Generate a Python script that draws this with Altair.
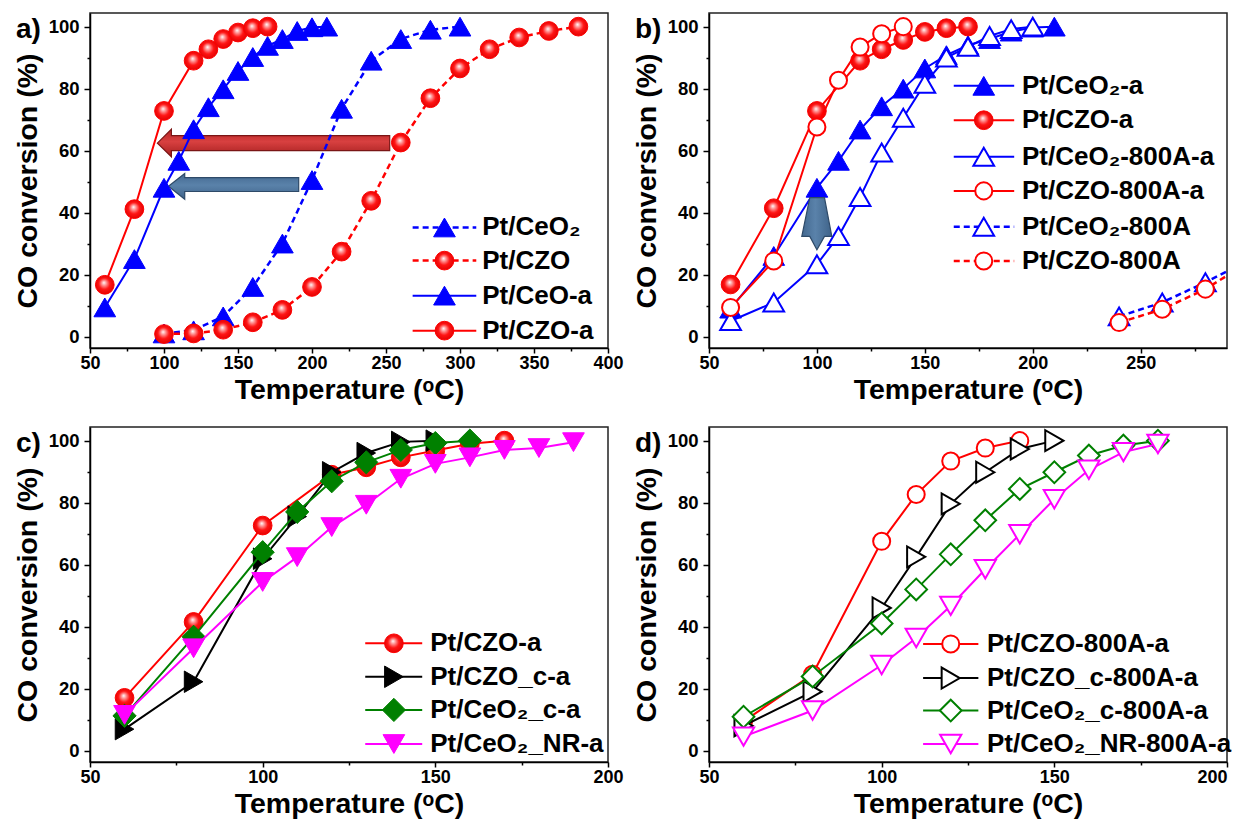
import altair as alt
import pandas as pd

FONT = "Liberation Sans"

# ---------------- panel a ----------------
a_ceo2_T = [100, 120, 140, 160, 180, 200, 220, 240, 260, 280, 300]
a_ceo2_Y = [1, 2, 6.5, 16, 30, 50.5, 73.5, 89, 96, 99, 100]
a_czo_T = [100, 120, 140, 160, 180, 200, 220, 240, 260, 280, 300, 320, 340, 360, 380]
a_czo_Y = [0.8, 1, 2.2, 4.6, 8.6, 16, 27.4, 43.8, 62.6, 76.9, 86.5, 92.7, 96.5, 98.6, 100]
a_ceoa_T = [60, 80, 100, 110, 120, 130, 140, 150, 160, 170, 180, 190, 200, 210]
a_ceoa_Y = [9.4, 25, 48, 56.7, 66.9, 74, 79.8, 85.7, 90.2, 93.8, 96, 98.6, 99.8, 100]
a_czoa_T = [60, 80, 100, 120, 130, 140, 150, 160, 170]
a_czoa_Y = [16.7, 41.1, 72.8, 89, 92.7, 96, 98.1, 99.5, 100]
a_labels = ["Pt/CeO₂", "Pt/CZO", "Pt/CeO-a", "Pt/CZO-a"]

# ---------------- panel b ----------------
b_ceoa_T = [60, 80, 100, 110, 120, 130, 140, 150, 160, 170, 180, 190, 200, 210]
b_ceoa_Y = [9, 26, 48, 56.7, 66.8, 74.3, 80, 86.5, 90.8, 94, 96, 98.4, 99.7, 100]
b_czoa_T = [60, 80, 100, 120, 130, 140, 150, 160, 170]
b_czoa_Y = [16.8, 41.4, 72.8, 89, 92.7, 95.7, 98.3, 99.5, 100]
b_ceo800a_T = [60, 80, 100, 110, 120, 130, 140, 150, 160, 170, 180, 190, 200]
b_ceo800a_Y = [5, 11, 23.3, 32.4, 45, 59.4, 70.6, 81.6, 90, 93.5, 97, 99.2, 100]
b_czo800a_T = [60, 80, 100, 110, 120, 130, 140]
b_czo800a_Y = [9.4, 24.4, 67.6, 82.7, 93.4, 97.7, 100]
b_ceo800_T = [240, 260, 280, 300]
b_ceo800_Y = [6.5, 11, 17.5, 24.5]
b_czo800_T = [240, 260, 280, 300]
b_czo800_Y = [4.5, 8.8, 15.3, 24]
b_labels = ["Pt/CeO₂-a", "Pt/CZO-a", "Pt/CeO₂-800A-a", "Pt/CZO-800A-a",
            "Pt/CeO₂-800A", "Pt/CZO-800A"]

# ---------------- panel c ----------------
c_czoa_T = [60, 80, 100, 120, 130, 140, 150, 160, 170]
c_czoa_Y = [17, 41.5, 72.6, 89, 91.4, 94.6, 96.8, 99, 100]
c_czoc_T = [60, 80, 100, 110, 120, 130, 140, 150]
c_czoc_Y = [6.9, 22.2, 61.9, 75.5, 89.8, 96, 99.6, 100]
c_ceoc_T = [60, 80, 100, 110, 120, 130, 140, 150, 160]
c_ceoc_Y = [11.2, 36.7, 64, 77, 86.9, 93, 97, 99.2, 100]
c_ceonr_T = [60, 80, 100, 110, 120, 130, 140, 150, 160, 170, 180, 190]
c_ceonr_Y = [11.5, 33, 54.4, 62.4, 72.1, 79.3, 87.7, 92.5, 94.6, 97, 97.6, 99.5]
c_labels = ["Pt/CZO-a", "Pt/CZO_c-a", "Pt/CeO₂_c-a", "Pt/CeO₂_NR-a"]

# ---------------- panel d ----------------
d_czo_T = [60, 80, 100, 110, 120, 130, 140]
d_czo_Y = [9.4, 24.6, 67.5, 82.6, 93.4, 97.6, 100]
d_czoc_T = [60, 80, 100, 110, 120, 130, 140, 150]
d_czoc_Y = [8, 19, 46, 62.5, 79.6, 89.8, 97.3, 100]
d_ceoc_T = [60, 80, 100, 110, 120, 130, 140, 150, 160, 170, 180]
d_ceoc_Y = [10.9, 23.9, 41, 52, 63.3, 74.3, 84.4, 89.8, 95.2, 98.4, 100]
d_ceonr_T = [60, 80, 100, 110, 120, 130, 140, 150, 160, 170, 180]
d_ceonr_Y = [4.5, 12.9, 27.6, 36.3, 46.7, 58.5, 69.8, 81.1, 90.6, 96.3, 98.9]
d_labels = ["Pt/CZO-800A-a", "Pt/CZO_c-800A-a", "Pt/CeO₂_c-800A-a", "Pt/CeO₂_NR-800A-a"]

# arrows (data coordinates)
ar_red_T = [95.5, 105, 105, 252.5]
ar_red_lo = [62.4, 58.0, 60.0, 60.0]
ar_red_hi = [62.4, 66.9, 64.8, 64.8]
ar_blue_T = [103, 114, 114, 191]
ar_blue_lo = [48.5, 44.3, 46.8, 46.8]
ar_blue_hi = [48.5, 52.6, 51.3, 51.3]
ar_down_V = [28, 32.3, 32.3, 44.8]
ar_down_lo = [100, 93, 96.7, 96.7]
ar_down_hi = [100, 106.9, 103.5, 103.5]

# ---------------- styles ----------------
RED, BLUE, GREEN, MAG, BLK = "#ff0000", "#0000ff", "#008000", "#ff00ff", "#000000"
BALL = alt.RadialGradient(
    gradient="radial", x1=0.45, y1=0.38, r1=0.0, x2=0.5, y2=0.5, r2=0.55,
    stops=[alt.GradientStop(offset=0.0, color="#ffffff"),
           alt.GradientStop(offset=0.22, color="#ff9a9a"),
           alt.GradientStop(offset=0.55, color="#ff1414"),
           alt.GradientStop(offset=1.0, color="#dd0000")])


def sty(color, shape, fill, size, dashed=False, sw=2.0):
    return dict(color=color, shape=shape, fill=fill, size=size, dashed=dashed, sw=sw)


S_TRI_F = sty(BLUE, "triangle-up", BLUE, 470, sw=1)
S_TRI_FD = sty(BLUE, "triangle-up", BLUE, 470, dashed=True, sw=1)
S_BALL = sty(RED, "circle", BALL, 350, sw=1)
S_BALL_D = sty(RED, "circle", BALL, 350, dashed=True, sw=1)
S_TRI_O = sty(BLUE, "triangle-up", "white", 430)
S_TRI_OD = sty(BLUE, "triangle-up", "white", 430, dashed=True)
S_CIR_O = sty(RED, "circle", "white", 290)
S_CIR_OD = sty(RED, "circle", "white", 290, dashed=True)
S_RT_F = sty(BLK, "triangle-right", BLK, 460, sw=1)
S_DIA_F = sty(GREEN, "diamond", GREEN, 540, sw=1)
S_DN_F = sty(MAG, "triangle-down", MAG, 470, sw=1)
S_RT_O = sty(BLK, "triangle-right", "white", 440)
S_DIA_O = sty(GREEN, "diamond", "white", 470)
S_DN_O = sty(MAG, "triangle-down", "white", 450)

Y_DOM = [-3.7, 104.4]


def x_axis(hi, last_right=False):
    kw = {}
    if last_right:
        kw["labelAlign"] = {"condition": {"test": f"datum.value == {hi}", "value": "right"},
                            "value": "center"}
    return alt.Axis(values=list(range(50, hi + 1, 25)), format="d",
                    labelExpr="datum.value % 50 == 0 ? datum.label : ''",
                    tickSize={"condition": {"test": "datum.value % 50 == 0", "value": 5}, "value": 3},
                    labelFlush=False, labelOverlap=False, grid=False, labelFontSize=18,
                    labelPadding=1, titlePadding=3, title="Temperature (ᵒC)", **kw)


def y_axis():
    return alt.Axis(values=list(range(0, 101, 10)), format="d",
                    labelExpr="datum.value % 20 == 0 ? datum.label : ''",
                    tickSize={"condition": {"test": "datum.value % 20 == 0", "value": 6}, "value": 3},
                    labelOverlap=False, grid=False, labelPadding=5, titlePadding=6,
                    title="CO conversion (%)")


def XE(dom, hi, field="T", last_right=False):
    return alt.X(f"{field}:Q", scale=alt.Scale(domain=dom, nice=False, zero=False),
                 axis=x_axis(hi, last_right))


def YE(field="Y"):
    return alt.Y(f"{field}:Q", scale=alt.Scale(domain=Y_DOM, nice=False, zero=False), axis=y_axis())


def line_kw(st):
    kw = dict(color=st["color"], strokeWidth=2, clip=True)
    if st["dashed"]:
        kw.update(strokeDash=[6, 4], strokeWidth=2.5)
    return kw


def point_kw(st):
    return dict(shape=st["shape"], filled=True, fill=st["fill"], stroke=st["color"],
                strokeWidth=st["sw"], size=st["size"], opacity=1, clip=True)


def series(T, Y, st, X, Yc):
    base = alt.Chart(pd.DataFrame({"T": T, "Y": Y})).encode(x=X, y=Yc)
    return [base.mark_line(**line_kw(st)), base.mark_point(**point_kw(st))]


def legend(labels, styles, x1, x2, xm, xt, ys, X, Yc):
    out = []
    for st, y in zip(styles, ys):
        d = pd.DataFrame({"T": [x1], "T2": [x2], "Y": [y]})
        out.append(alt.Chart(d).mark_rule(**line_kw(st)).encode(x=X, x2="T2:Q", y=Yc))
        out.append(alt.Chart(pd.DataFrame({"T": [xm], "Y": [y]}))
                   .mark_point(**point_kw(st)).encode(x=X, y=Yc))
    td = pd.DataFrame({"T": [xt] * len(labels), "Y": ys, "label": labels})
    out.append(alt.Chart(td).mark_text(align="left", baseline="middle", font=FONT, fontSize=26,
                                       fontWeight="bold", color="black")
               .encode(x=X, y=Yc, text="label:N"))
    return out


def h_arrow(T, lo, hi, grad, edge, X):
    d = pd.DataFrame({"T": T, "lo": lo, "hi": hi})
    return alt.Chart(d).mark_area(fill=grad, stroke=edge, strokeWidth=1.2, opacity=1).encode(
        x=X, y=YE("lo"), y2="hi:Q")


def panel_label(txt):
    return alt.Chart(pd.DataFrame({"t": [txt]})).mark_text(
        align="left", baseline="middle", font=FONT, fontSize=28, fontWeight="bold", color="black"
    ).encode(text="t:N", x=alt.value(-74), y=alt.value(17))


RED_GRAD = alt.LinearGradient(gradient="linear", x1=0, y1=0, x2=0, y2=1, stops=[
    alt.GradientStop(offset=0, color="#b52525"), alt.GradientStop(offset=0.45, color="#d84040"),
    alt.GradientStop(offset=1, color="#a51f1f")])
BLUE_GRAD = alt.LinearGradient(gradient="linear", x1=0, y1=0, x2=0, y2=1, stops=[
    alt.GradientStop(offset=0, color="#43688f"), alt.GradientStop(offset=0.45, color="#5a82aa"),
    alt.GradientStop(offset=1, color="#3f6389")])
DOWN_GRAD = alt.LinearGradient(gradient="linear", x1=0, y1=0, x2=1, y2=0, stops=[
    alt.GradientStop(offset=0, color="#43688f"), alt.GradientStop(offset=0.45, color="#5a82aa"),
    alt.GradientStop(offset=1, color="#3f6389")])

W, H = 518, 335

# ----- panel a -----
Xa = XE([50, 400], 400)
Ya = YE()
la = [h_arrow(ar_red_T, ar_red_lo, ar_red_hi, RED_GRAD, "#7a1515", Xa),
      h_arrow(ar_blue_T, ar_blue_lo, ar_blue_hi, BLUE_GRAD, "#2e4a68", Xa)]
for T, Y, st in [(a_ceo2_T, a_ceo2_Y, S_TRI_FD), (a_czo_T, a_czo_Y, S_BALL_D),
                 (a_ceoa_T, a_ceoa_Y, S_TRI_F), (a_czoa_T, a_czoa_Y, S_BALL)]:
    la += series(T, Y, st, Xa, Ya)
la += legend(a_labels, [S_TRI_FD, S_BALL_D, S_TRI_F, S_BALL], 268, 311, 289.5, 315,
             [35.2, 24.5, 13.2, 1.9], Xa, Ya)
la.append(panel_label("a)"))
pa = alt.layer(*la).properties(width=W, height=H)

# ----- panel b -----
Xb = XE([50, 290], 290)
lb = []
for T, Y, st in [(b_ceoa_T, b_ceoa_Y, S_TRI_F), (b_czoa_T, b_czoa_Y, S_BALL),
                 (b_ceo800a_T, b_ceo800a_Y, S_TRI_O), (b_czo800a_T, b_czo800a_Y, S_CIR_O),
                 (b_ceo800_T, b_ceo800_Y, S_TRI_OD), (b_czo800_T, b_czo800_Y, S_CIR_OD)]:
    lb += series(T, Y, st, Xb, Ya)
dd = pd.DataFrame({"V": ar_down_V, "lo": ar_down_lo, "hi": ar_down_hi})
lb.append(alt.Chart(dd).mark_area(orient="horizontal", fill=DOWN_GRAD, stroke="#2e4a68",
                                  strokeWidth=1.2, opacity=1)
          .encode(y=YE("V"), x=XE([50, 290], 290, "lo"), x2="hi:Q"))
lb += legend(b_labels, [S_TRI_F, S_BALL, S_TRI_O, S_CIR_O, S_TRI_OD, S_CIR_OD],
             163.4, 191.4, 177.3, 195, [80.9, 69.8, 58, 47, 35.4, 24.4], Xb, Ya)
lb.append(panel_label("b)"))
pb = alt.layer(*lb).properties(width=W, height=H)

# ----- panel c -----
Xc = XE([50, 200], 200)
lc = []
for T, Y, st in [(c_czoa_T, c_czoa_Y, S_BALL), (c_czoc_T, c_czoc_Y, S_RT_F),
                 (c_ceoc_T, c_ceoc_Y, S_DIA_F), (c_ceonr_T, c_ceonr_Y, S_DN_F)]:
    lc += series(T, Y, st, Xc, Ya)
lc += legend(c_labels, [S_BALL, S_RT_F, S_DIA_F, S_DN_F], 129.7, 146.2, 138, 148.5,
             [34.6, 23.8, 13.1, 2.1], Xc, Ya)
lc.append(panel_label("c)"))
pc = alt.layer(*lc).properties(width=W, height=H)

# ----- panel d -----
Xd = XE([50, 200], 200, last_right=True)
ld = []
for T, Y, st in [(d_czo_T, d_czo_Y, S_CIR_O), (d_czoc_T, d_czoc_Y, S_RT_O),
                 (d_ceoc_T, d_ceoc_Y, S_DIA_O), (d_ceonr_T, d_ceonr_Y, S_DN_O)]:
    ld += series(T, Y, st, Xd, Ya)
ld += legend(d_labels, [S_CIR_O, S_RT_O, S_DIA_O, S_DN_O], 112, 128, 120, 130.5,
             [34.4, 23.4, 12.9, 2.1], Xd, Ya)
ld.append(panel_label("d)"))
pd_ = alt.layer(*ld).properties(width=W, height=H)

chart = alt.concat(pa, pb, pc, pd_, columns=2, spacing={"row": 79, "column": 101},
                   bounds="flush").properties(
    padding={"left": 4, "top": 4, "right": 0, "bottom": 0}
).configure_axis(
    labelFont=FONT, labelFontSize=18.5, labelFontWeight="bold", labelColor="black",
    titleFont=FONT, titleFontSize=28.5, titleFontWeight="bold", titleColor="black",
    domainColor="black", domainWidth=1.5, tickColor="black", tickWidth=1.5
).configure_view(stroke="#222222", strokeWidth=1.5)

chart.save("out.html", embed_options={"renderer": "svg", "actions": False})
